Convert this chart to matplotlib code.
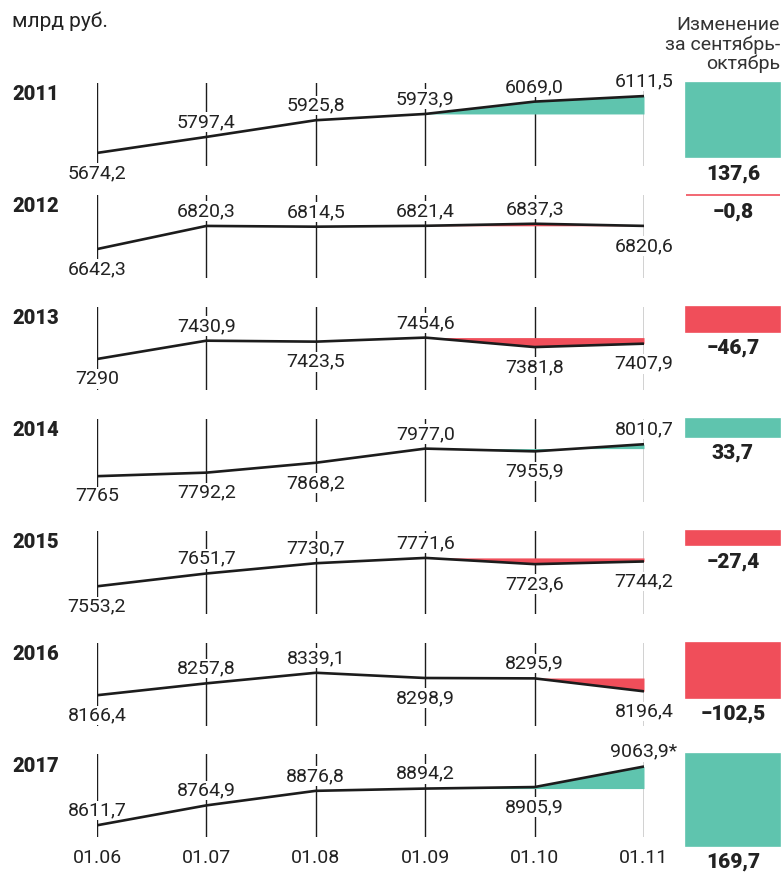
import matplotlib.pyplot as plt
import numpy as np

plt.rcParams['font.family'] = ['Roboto', 'DejaVu Sans']

# data
years = ['2011', '2012', '2013', '2014', '2015', '2016', '2017']
dates = ['01.06', '01.07', '01.08', '01.09', '01.10', '01.11']
v2011 = [5674.2, 5797.4, 5925.8, 5973.9, 6069.0, 6111.5]
v2012 = [6642.3, 6820.3, 6814.5, 6821.4, 6837.3, 6820.6]
v2013 = [7290.0, 7430.9, 7423.5, 7454.6, 7381.8, 7407.9]
v2014 = [7765.0, 7792.2, 7868.2, 7977.0, 7955.9, 8010.7]
v2015 = [7553.2, 7651.7, 7730.7, 7771.6, 7723.6, 7744.2]
v2016 = [8166.4, 8257.8, 8339.1, 8298.9, 8295.9, 8196.4]
v2017 = [8611.7, 8764.9, 8876.8, 8894.2, 8905.9, 9063.9]
series = [v2011, v2012, v2013, v2014, v2015, v2016, v2017]
changes = [137.6, -0.8, -46.7, 33.7, -27.4, -102.5, 169.7]

# label above (1) or below (0) the point
label_side = [
    [0, 1, 1, 1, 1, 1],
    [0, 1, 1, 1, 1, 0],
    [0, 1, 0, 1, 0, 0],
    [0, 0, 0, 1, 0, 1],
    [0, 1, 1, 1, 0, 0],
    [0, 1, 1, 0, 1, 0],
    [1, 1, 1, 1, 0, 1],
]
label_override = {(2, 0): '7290', (3, 0): '7765', (6, 5): '9063,9*'}

GREEN = '#5fc4ae'
RED = '#f04e5a'
INK = '#1c1c1c'

W, H = 784, 874
fig = plt.figure(figsize=(W / 100, H / 100), dpi=100)

row_top0, row_step, row_h = 83, 111.9, 83
x_left, x_right = 97, 644
bar_left, bar_right = 686, 780
px_per_unit = 0.13
bar_px_per_unit = 0.54
num_size = 14


def fmt(v):
    s = f'{abs(v):.1f}'.replace('.', ',')
    return ('\u2212' + s) if v < 0 else s


for i, (year, vals, ch) in enumerate(zip(years, series, changes)):
    top = row_top0 + i * row_step
    bottom = 1 - (top + row_h) / H
    ax = fig.add_axes([x_left / W, bottom, (x_right - x_left) / W, row_h / H])
    ax.set_xlim(0, 5)
    mid = (max(vals) + min(vals)) / 2
    half = row_h / 2 / px_per_unit
    ax.set_ylim(mid - half, mid + half)
    for s in ax.spines.values():
        s.set_visible(False)
    ax.set_yticks([])
    if i == len(years) - 1:
        ax.set_xticks(range(len(dates)), dates)
        ax.tick_params(axis='x', length=0, pad=8, labelsize=14, labelcolor='#222')
    else:
        ax.set_xticks([])

    x = np.arange(len(vals))
    for xi in x:
        ax.axvline(xi, color=INK, lw=1, zorder=1)

    # shaded change Sept -> Nov
    col = GREEN if ch >= 0 else RED
    ax.fill_between(x[3:], vals[3:], vals[3], color=col, lw=0, zorder=2)
    ax.plot(x, vals, color=INK, lw=1.9, zorder=5, solid_capstyle='butt')

    for j, v in enumerate(vals):
        txt = label_override.get((i, j), fmt(v))
        if label_side[i][j]:
            ax.annotate(txt, (j, v), xytext=(0, 7), textcoords='offset points',
                        ha='center', va='baseline', fontsize=num_size, color='#222',
                        zorder=4, bbox=dict(facecolor='white', edgecolor='none', pad=0.5))
        else:
            ax.annotate(txt, (j, v), xytext=(0, -8), textcoords='offset points',
                        ha='center', va='top', fontsize=num_size, color='#222',
                        zorder=4, bbox=dict(facecolor='white', edgecolor='none', pad=0.5))

    fig.text(12 / W, 1 - (top + 12) / H, year, fontsize=14.5, fontweight='heavy',
             va='center', ha='left', color='#222')

    # change bar
    bx = fig.add_axes([bar_left / W, bottom, (bar_right - bar_left) / W, row_h / H])
    bx.set_xlim(0, 1)
    bx.set_ylim(-row_h / bar_px_per_unit, 0)
    bx.axis('off')
    bx.bar(0.5, -abs(ch), width=1, bottom=0, color=col, edgecolor=col, lw=1.2,
           clip_on=False)
    bx.annotate(fmt(ch), (0.5, -abs(ch)), xytext=(0, -5), textcoords='offset points',
                ha='center', va='top', fontsize=15, fontweight='heavy', color='#222',
                annotation_clip=False)

fig.text(12 / W, 1 - 21 / H, 'млрд руб.', fontsize=15, va='center', ha='left', color='#222')
fig.text(780 / W, 1 - 16 / H, 'Изменение\nза сентябрь-\nоктябрь', fontsize=14,
         va='top', ha='right', linespacing=1.08, color='#333')

fig.savefig('out.png', dpi=100)
